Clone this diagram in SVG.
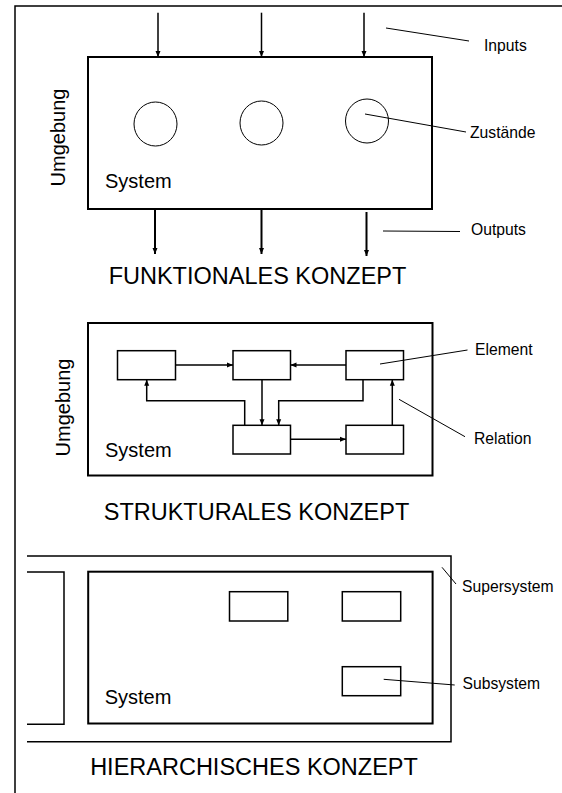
<svg xmlns="http://www.w3.org/2000/svg" width="562" height="793" viewBox="0 0 562 793">
<defs>
<marker id="ah" markerWidth="6" markerHeight="6" refX="6" refY="3" orient="auto" markerUnits="userSpaceOnUse"><path d="M0,0.5 L6,3 L0,5.5 z" fill="#000"/></marker>
</defs>
<style>
text{font-family:"Liberation Sans",Arial,sans-serif;fill:#000}
.title{font-size:23.5px;text-anchor:middle}
.lbl{font-size:15.7px}
.sys{font-size:20px}
.box{fill:none;stroke:#000;stroke-width:2}
.el{fill:none;stroke:#000;stroke-width:1.5}
.thin{stroke:#000;stroke-width:1;fill:none}
.arr{stroke:#000;stroke-width:1.5;fill:none;marker-end:url(#ah)}
.frame{stroke:#000;stroke-width:1.5;fill:none}
</style>
<rect width="562" height="793" fill="#fff"/>
<path class="frame" d="M562,6 H15 V793"/>

<!-- Funktionales Konzept -->
<g id="func-system">
  <rect class="box" x="88" y="57" width="344" height="152"/>
  <text class="sys" x="105" y="188">System</text>
  <text class="sys" transform="translate(65,137.5) rotate(-90)" text-anchor="middle">Umgebung</text>
</g>
<g id="func-state1"><ellipse class="thin" cx="155.5" cy="124" rx="21.5" ry="22"/></g>
<g id="func-state2"><ellipse class="thin" cx="261.5" cy="123" rx="21.5" ry="22"/></g>
<g id="func-state3"><ellipse class="thin" cx="367" cy="121" rx="21.5" ry="22"/></g>
<g id="func-labels">
  <text class="lbl" x="484" y="51">Inputs</text>
  <text class="lbl" x="470" y="138">Zustände</text>
  <text class="lbl" x="471" y="235">Outputs</text>
</g>
<g id="func-title"><text class="title" x="257.5" y="284">FUNKTIONALES KONZEPT</text></g>

<!-- Strukturales Konzept -->
<g id="struct-system">
  <rect class="box" x="88" y="323" width="344.5" height="152.5"/>
  <text class="sys" x="105" y="456.5">System</text>
  <text class="sys" transform="translate(70,407.5) rotate(-90)" text-anchor="middle">Umgebung</text>
</g>
<g id="struct-e1"><rect class="el" x="117.5" y="350.7" width="58" height="29"/></g>
<g id="struct-e2"><rect class="el" x="233" y="350.7" width="57.5" height="29"/></g>
<g id="struct-e3"><rect class="el" x="346" y="350.7" width="57.5" height="29"/></g>
<g id="struct-e4"><rect class="el" x="233" y="425.3" width="57.5" height="28.7"/></g>
<g id="struct-e5"><rect class="el" x="346" y="425.3" width="57.5" height="28.7"/></g>
<g id="struct-labels">
  <text class="lbl" x="475" y="354.5">Element</text>
  <text class="lbl" x="474" y="444">Relation</text>
</g>
<g id="struct-title"><text class="title" x="256.5" y="520">STRUKTURALES KONZEPT</text></g>

<!-- Hierarchisches Konzept -->
<g id="hier-supersystem"><path class="frame" d="M27,556 H451 V741.7 H27"/></g>
<g id="hier-neighbour"><path class="el" d="M27,572 H64 V724.3 H27"/></g>
<g id="hier-system">
  <rect class="box" x="88.2" y="571.7" width="344.4" height="151.8"/>
  <text class="sys" x="104.7" y="704.3">System</text>
</g>
<g id="hier-r1"><rect class="el" x="229.5" y="591.7" width="58.3" height="29.3"/></g>
<g id="hier-r2"><rect class="el" x="342.3" y="591.7" width="58.4" height="29.3"/></g>
<g id="hier-sub"><rect class="el" x="342.3" y="666.7" width="58.4" height="29"/></g>
<g id="hier-labels">
  <text class="lbl" x="462" y="591.5">Supersystem</text>
  <text class="lbl" x="462.5" y="689">Subsystem</text>
</g>
<g id="hier-title"><text class="title" x="254" y="775">HIERARCHISCHES KONZEPT</text></g>

<g id="connectors">
  <!-- inputs -->
  <line class="arr" x1="158" y1="12.7" x2="158" y2="57"/>
  <line class="arr" x1="261.5" y1="12.7" x2="261.5" y2="57"/>
  <line class="arr" x1="364" y1="12.7" x2="364" y2="57"/>
  <!-- outputs -->
  <line class="arr" style="stroke-width:2" x1="155" y1="209" x2="155" y2="254"/>
  <line class="arr" style="stroke-width:2" x1="261.5" y1="209" x2="261.5" y2="254"/>
  <line class="arr" style="stroke-width:2" x1="366.5" y1="212" x2="366.5" y2="256"/>
  <!-- label leaders -->
  <line class="thin" x1="386" y1="28" x2="469" y2="41"/>
  <line class="thin" x1="365" y1="114" x2="466" y2="132"/>
  <line class="thin" x1="383" y1="231" x2="460" y2="231.5"/>
  <line class="thin" x1="380" y1="364" x2="467.5" y2="350"/>
  <line class="thin" x1="399" y1="399.3" x2="465" y2="436.7"/>
  <line class="thin" x1="442" y1="567.3" x2="456" y2="584"/>
  <line class="thin" x1="383.7" y1="679.3" x2="454.7" y2="685"/>
  <!-- structural relations -->
  <line class="arr" x1="175.5" y1="365" x2="233" y2="365"/>
  <line class="arr" x1="346" y1="365" x2="290.5" y2="365"/>
  <line class="arr" x1="262" y1="379.7" x2="262" y2="425.3"/>
  <path class="arr" d="M363,379.7 V400.8 H278.7 V425.3"/>
  <path class="arr" d="M244.7,425.3 V400.8 H146.7 V379.7"/>
  <line class="arr" x1="290.5" y1="439.3" x2="346" y2="439.3"/>
  <line class="arr" x1="392.3" y1="425.3" x2="392.3" y2="379.7"/>
</g>
</svg>
